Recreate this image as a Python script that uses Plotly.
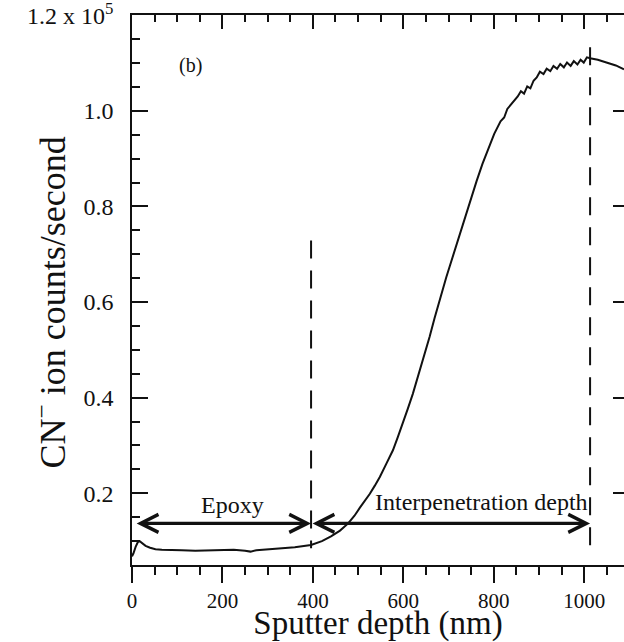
import plotly.graph_objects as go

# CN- secondary-ion depth profile through the epoxy / interphase region
depth_nm = [0, 3, 8, 13, 17, 22, 30, 40, 52, 66, 86, 110, 140, 170, 196, 225, 250, 262,
            275, 300, 328, 360, 396, 420, 440, 460, 478, 492, 504, 515, 526, 537, 548,
            562, 577, 588, 599, 610, 621, 632, 643, 651, 658, 669, 680, 688, 695, 703,
            711, 720, 731, 740, 750, 762, 775, 788, 801, 815, 823, 830, 840, 847, 853,
            860, 867, 874, 881, 888, 895, 902, 910, 917, 925, 932, 940, 947, 955, 962,
            970, 977, 985, 992, 999, 1006, 1013, 1030, 1050, 1070, 1088]
cn_counts_1e5 = [0.068, 0.074, 0.088, 0.098, 0.100, 0.096, 0.090, 0.086, 0.083, 0.082,
                 0.081, 0.081, 0.080, 0.081, 0.081, 0.082, 0.080, 0.078, 0.081, 0.083,
                 0.084, 0.087, 0.092, 0.100, 0.110, 0.122, 0.137, 0.153, 0.170, 0.184,
                 0.199, 0.216, 0.234, 0.261, 0.290, 0.318, 0.346, 0.377, 0.408, 0.443,
                 0.478, 0.503, 0.527, 0.566, 0.604, 0.628, 0.652, 0.676, 0.700, 0.728,
                 0.764, 0.790, 0.820, 0.853, 0.889, 0.921, 0.952, 0.978, 0.986, 1.004,
                 1.016, 1.024, 1.030, 1.041, 1.036, 1.051, 1.047, 1.063, 1.070, 1.082,
                 1.077, 1.088, 1.083, 1.094, 1.088, 1.098, 1.091, 1.101, 1.094, 1.104,
                 1.097, 1.107, 1.101, 1.112, 1.110, 1.107, 1.101, 1.095, 1.087]

# region boundaries (nm) and the extent of their dashed markers (x 1e5 counts/s)
boundary_depths = [396, 1013]
boundary_tops = [0.729, 1.133]
boundary_bottom = 0.085

# double-headed arrows spanning each region
arrow_level = 0.137
region_spans = [(7, 396), (396, 1013)]
region_labels = ["Epoxy", "Interpenetration depth"]
region_label_x = [222, 772]
region_label_y = [0.175, 0.182]

x_tick_step = 200
x_minor_step = 50
y_tick_step = 0.2
y_minor_step = 0.05
y_top_label = {"1.2": "1.2 x 10<sup>5</sup>"}

x_range = [0, 1088]
y_range = [0.05, 1.2005]

SERIF = "Liberation Serif, Times New Roman, serif"
INK = "#111111"

fig = go.Figure()

fig.add_trace(go.Scatter(
    x=depth_nm, y=cn_counts_1e5, mode="lines",
    line=dict(color=INK, width=2), showlegend=False, hoverinfo="skip"))

for xb, top in zip(boundary_depths, boundary_tops):
    fig.add_trace(go.Scatter(
        x=[xb, xb], y=[top, boundary_bottom], mode="lines",
        line=dict(color=INK, width=2, dash="18px,12px"),
        showlegend=False, hoverinfo="skip"))

# helper trace so the mirrored top/right axes are drawn
fig.add_trace(go.Scatter(x=[x_range[0]], y=[y_range[0]], mode="none",
                         xaxis="x2", yaxis="y2", showlegend=False, hoverinfo="skip"))

for (x0, x1) in region_spans:
    fig.add_annotation(
        x=x1, y=arrow_level, ax=x0, ay=arrow_level, xref="x", yref="y",
        axref="x", ayref="y", text="", showarrow=True,
        arrowside="end+start", arrowhead=5, startarrowhead=5,
        arrowsize=1.1, startarrowsize=1.1, arrowwidth=3.2, arrowcolor=INK,
        standoff=0, startstandoff=0)

for label, lx, ly in zip(region_labels, region_label_x, region_label_y):
    fig.add_annotation(x=lx, y=ly, xref="x", yref="y", text=label, showarrow=False,
                       font=dict(family=SERIF, size=24, color=INK))

fig.add_annotation(x=129, y=1.095, xref="x", yref="y", text="(b)", showarrow=False,
                   font=dict(family=SERIF, size=20, color=INK))

fig.add_annotation(x=-0.166, y=0.478, xref="paper", yref="paper",
                   text="CN<sup>\u2212</sup> ion counts/second", textangle=-90,
                   showarrow=False, xanchor="center", yanchor="middle",
                   font=dict(family=SERIF, size=36, color=INK))

axis_common = dict(showgrid=False, zeroline=False, linecolor=INK, linewidth=1.5,
                   tickcolor=INK, tickwidth=2, ticklabeloverflow="allow")
minor_style = dict(tick0=0, tickcolor=INK, tickwidth=1.5)

fig.update_layout(
    width=624, height=642,
    margin=dict(l=131.8, r=0, t=14.7, b=77),
    paper_bgcolor="white", plot_bgcolor="white",
    showlegend=False,
    xaxis=dict(range=x_range, tickmode="linear", tick0=0, dtick=x_tick_step,
               ticks="outside", ticklen=16, showline=True,
               minor=dict(dtick=x_minor_step, ticks="outside", ticklen=8, **minor_style),
               tickfont=dict(family=SERIF, size=21, color=INK),
               title=dict(text="Sputter depth (nm)", standoff=0,
                          font=dict(family=SERIF, size=33, color=INK)),
               **axis_common),
    yaxis=dict(range=y_range, tickmode="linear", tick0=0, dtick=y_tick_step,
               tickformat=".1f", labelalias=y_top_label,
               ticks="inside", ticklen=16, showline=True, ticklabelstandoff=12,
               minor=dict(dtick=y_minor_step, ticks="inside", ticklen=8, **minor_style),
               tickfont=dict(family=SERIF, size=24, color=INK),
               **axis_common),
    xaxis2=dict(range=x_range, overlaying="x", side="top", anchor="y2",
                tickmode="linear", tick0=0, dtick=x_tick_step,
                ticks="inside", ticklen=14, showticklabels=False, showline=True,
                minor=dict(dtick=x_minor_step, ticks="inside", ticklen=7, **minor_style),
                **axis_common),
    yaxis2=dict(range=y_range, overlaying="y", side="right", anchor="x2",
                tickmode="linear", tick0=0, dtick=y_tick_step,
                ticks="inside", ticklen=11,
                showticklabels=False, showline=False, **axis_common),
)

fig.write_html("out.html")
